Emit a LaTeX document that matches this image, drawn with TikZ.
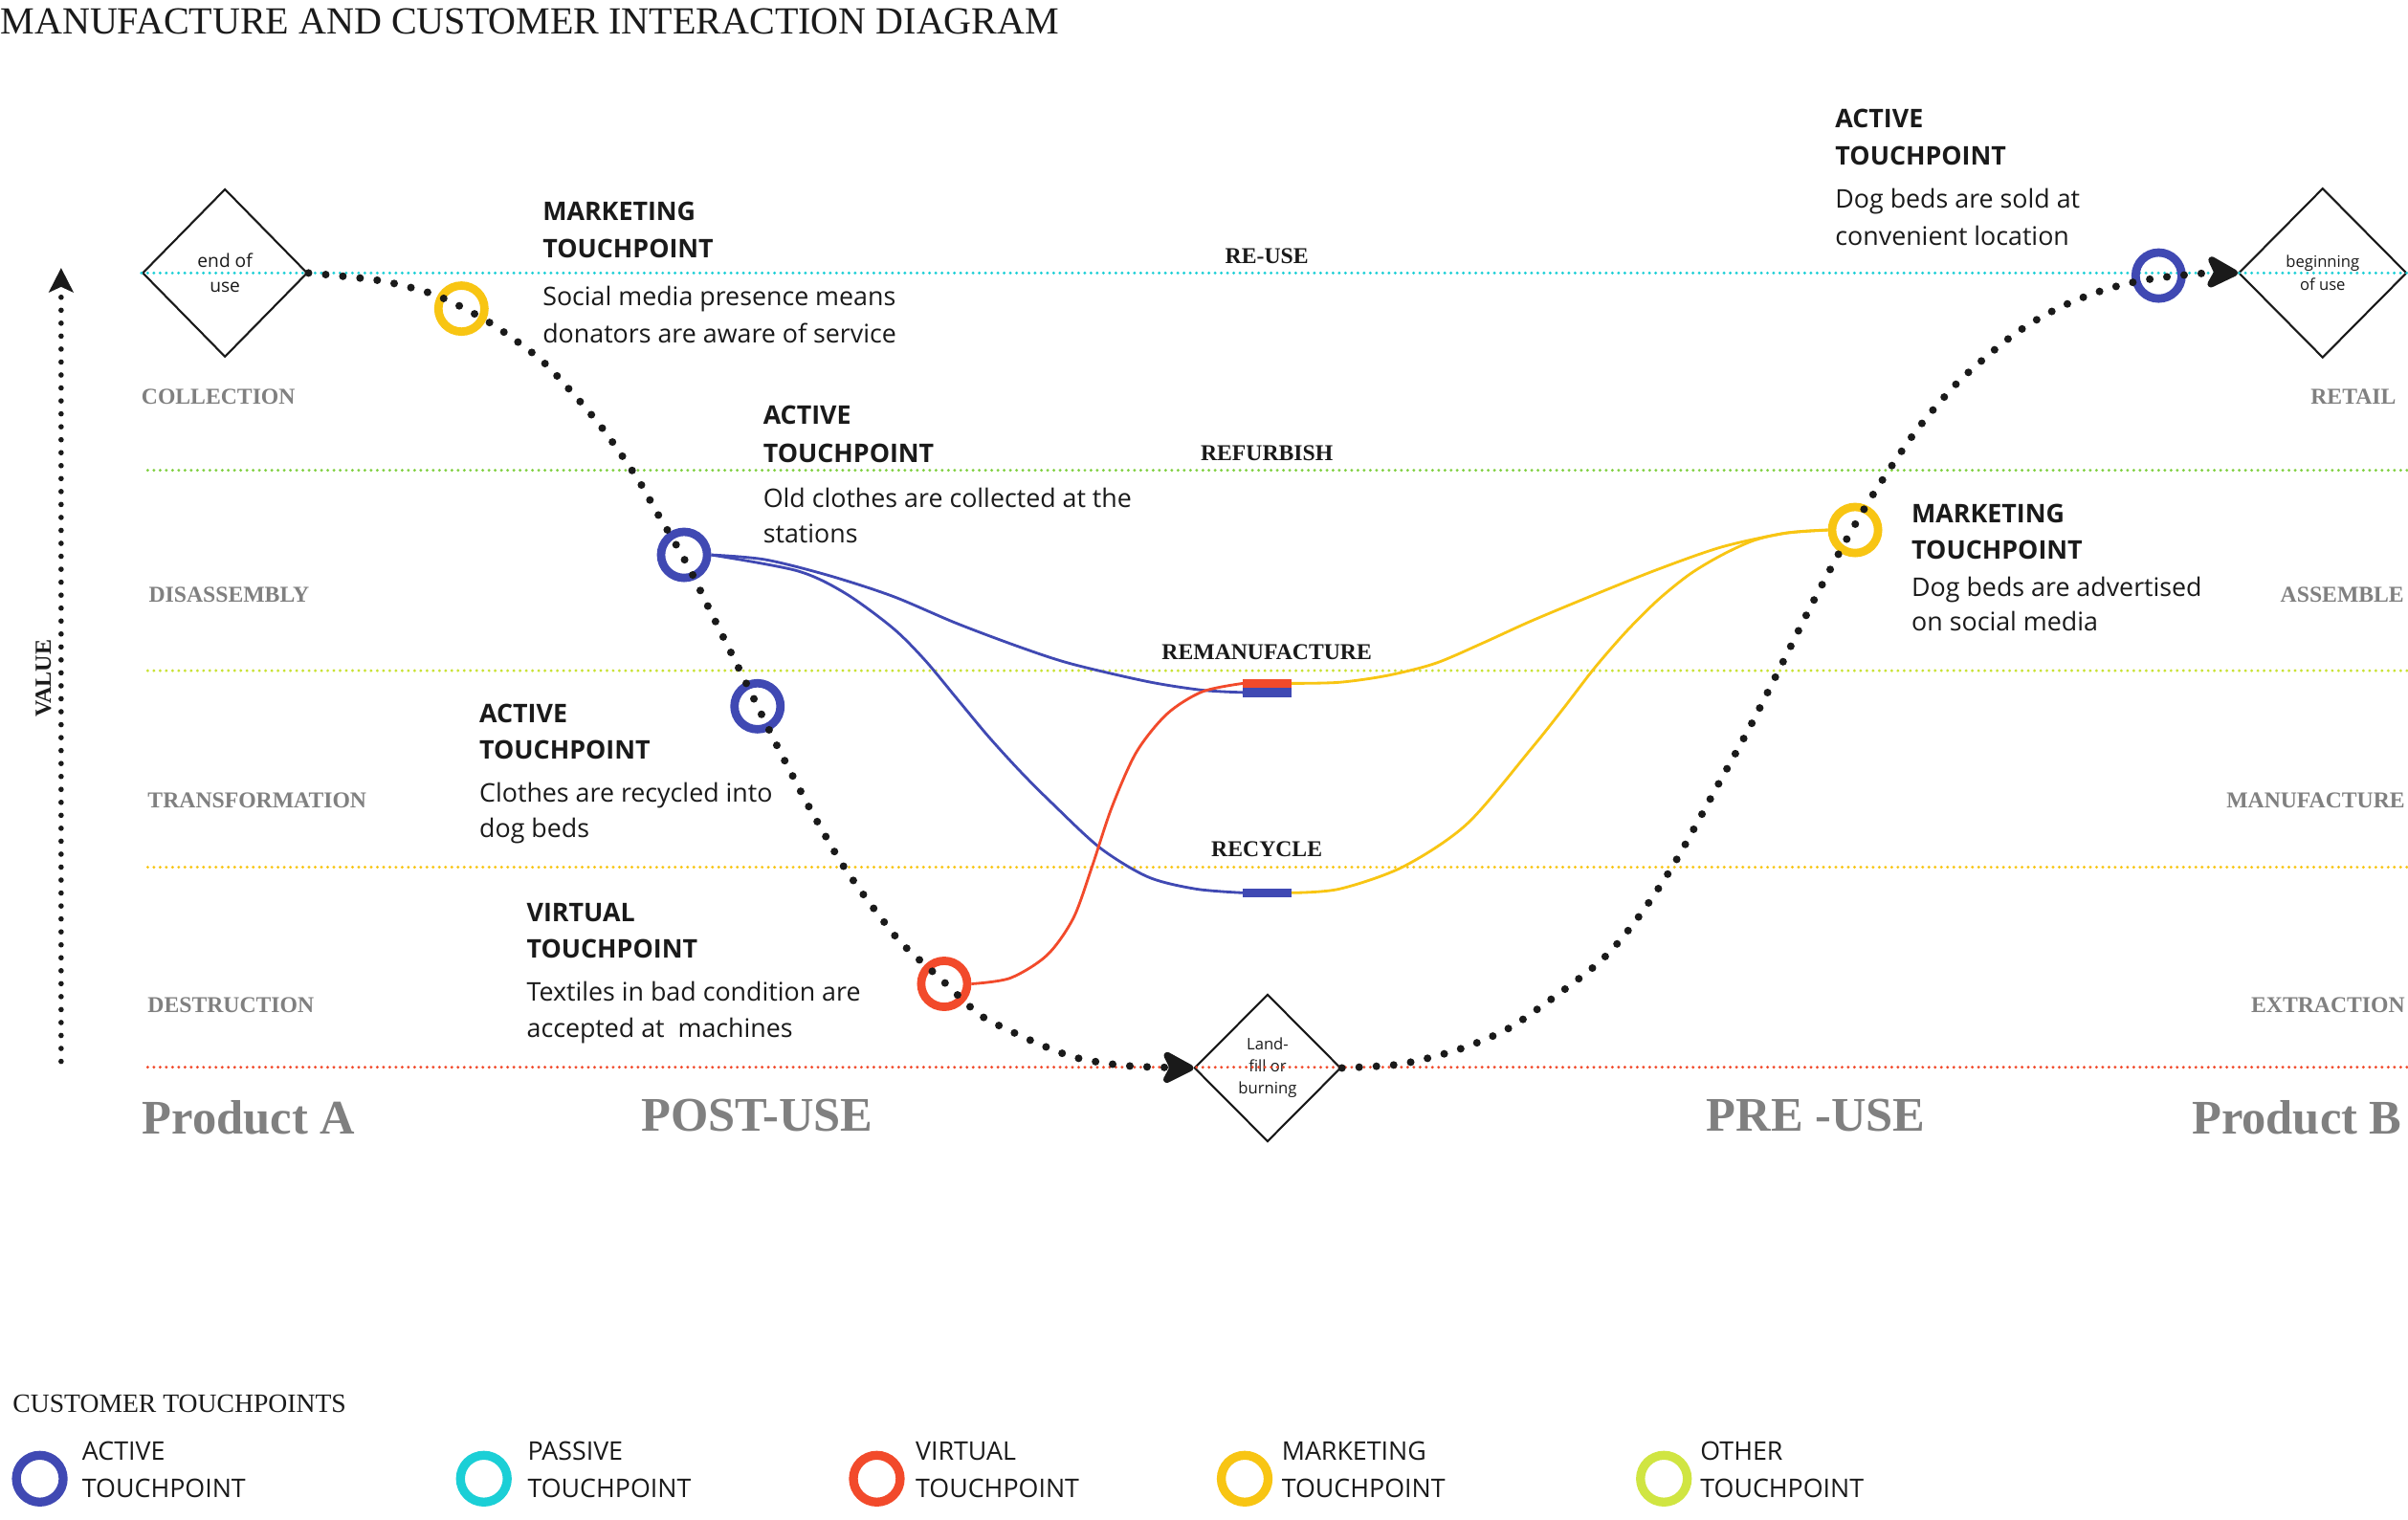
\documentclass[tikz,border=0pt]{standalone}
\usepackage{fontspec}
\setmainfont{Liberation Serif}
\newfontfamily\osans{Open Sans}
\usetikzlibrary{shapes.geometric,arrows.meta}
\definecolor{cActive}{HTML}{4049B3}
\definecolor{cPassive}{HTML}{1BCFD6}
\definecolor{cVirtual}{HTML}{F24A2B}
\definecolor{cMarket}{HTML}{F8C513}
\definecolor{cOther}{HTML}{D0E542}
\definecolor{cGreen}{HTML}{80D040}
\definecolor{cLime}{HTML}{C9E232}
\definecolor{cGray}{HTML}{808080}
\definecolor{cInk}{HTML}{1A1A1A}
\tikzset{
 guide/.style={line width=1.15pt, line cap=round, dash pattern=on 0pt off 2.3pt},
 bigdots/.style={line width=2.85pt, line cap=round, dash pattern=on 0pt off 6.4pt, draw=cInk},
 flow/.style={line width=1pt},
 tp/.style={circle, draw=#1, line width=3.1pt, minimum size=6mm, inner sep=0pt},
 lgc/.style={circle, draw=#1, line width=3.3pt, minimum size=6.1mm, inner sep=0pt},
 stage/.style={diamond, draw=cInk, line width=0.75pt, inner sep=0pt, align=center, text=cInk},
 barbox/.style={fill=#1, inner sep=0pt, outer sep=0pt, minimum width=6.32mm, minimum height=1.2mm},
 tphead/.style={font=\osans\bfseries\fontsize{9.5}{11}\selectfont, text=cInk, anchor=base west, inner sep=0pt},
 tpbody/.style={font=\osans\fontsize{9.5}{11}\selectfont, text=cInk, anchor=base west, inner sep=0pt},
 lvllabel/.style={font=\bfseries\fontsize{8.4}{10}\selectfont, text=cGray, inner sep=0pt},
 routelabel/.style={font=\bfseries\fontsize{8.4}{10}\selectfont, text=cInk, anchor=base, inner sep=0pt},
 phaselabel/.style={font=\bfseries\fontsize{17.9}{20}\selectfont, text=cGray, inner sep=0pt},
 bigtip/.style={-{Stealth[length=14pt,width=14.5pt,inset=3.6pt,round]}},
}
\begin{document}
\begin{tikzpicture}[x=0.2mm,y=-0.2mm]
\fill[white] (0,0) rectangle (1568.2,989.4);
\useasboundingbox (0,0) rectangle (1568.2,989.4);

% title
\node[anchor=base west, inner sep=0pt, font=\fontsize{14.2}{16}\selectfont, text=cInk] (title) at (0,22) {MANUFACTURE AND CUSTOMER INTERACTION DIAGRAM};

% stage diamonds
\node[stage, minimum width=21.5mm, minimum height=21.9mm, font=\osans\fontsize{6.8}{9.1}\selectfont] (eou) at (146.5,177.8) {end of\\use};
\node[stage, minimum width=21.9mm, minimum height=22.1mm, font=\osans\fontsize{5.9}{8.3}\selectfont] (bou) at (1512.6,177.8) {beginning\\of use};
\node[stage, minimum width=19.1mm, minimum height=19.2mm, font=\osans\fontsize{5.9}{8.2}\selectfont] (lf) at (825.5,695.6) {Land-\\fill or\\burning};

% guide lines
\draw[guide, draw=cPassive] (eou.west) -- (bou.east);
\draw[guide, draw=cGreen] (96.2,306.3) -- (1568,306.3);
\draw[guide, draw=cLime] (96.2,436.8) -- (1568,436.8);
\draw[guide, draw=cMarket] (96.2,564.8) -- (1568,564.8);
\draw[guide, draw=cVirtual] (96.2,695.1) -- (1568,695.1);

% route labels
\node[routelabel] (lreuse) at (825,171.5) {RE-USE};
\node[routelabel] (lrefurb) at (825,300) {REFURBISH};
\node[routelabel] (lreman) at (825,429.3) {REMANUFACTURE};
\node[routelabel] (lrecyc) at (825,558) {RECYCLE};

% level labels
\node[lvllabel, anchor=base west] (lcol) at (91.8,263.3) {COLLECTION};
\node[lvllabel, anchor=base west] (ldis) at (96.6,392.5) {DISASSEMBLY};
\node[lvllabel, anchor=base west] (ltra) at (95.9,526.1) {TRANSFORMATION};
\node[lvllabel, anchor=base west] (ldes) at (95.9,659.7) {DESTRUCTION};
\node[lvllabel, anchor=base east] (lret) at (1560.7,263.4) {RETAIL};
\node[lvllabel, anchor=base east] (lass) at (1565.9,392.5) {ASSEMBLE};
\node[lvllabel, anchor=base east] (lman) at (1566.5,526.1) {MANUFACTURE};
\node[lvllabel, anchor=base east] (lext) at (1566.5,659.7) {EXTRACTION};

% phase labels
\node[phaselabel, anchor=base west] (pa) at (92.4,738.3) {Product A};
\node[phaselabel, anchor=base west] (ppost) at (417.2,737) {POST-USE};
\node[phaselabel, anchor=base west] (ppre) at (1111,737) {PRE -USE};
\node[phaselabel, anchor=base east] (pb) at (1564.5,738.3) {Product B};

% value axis
\coordinate (axb) at (39.8,691.3);
\coordinate (axt) at (39.8,174.5);
\draw[line width=2pt, line cap=round, dash pattern=on 0pt off 4.8pt, draw=cInk, -{Stealth[length=9pt,width=9pt,inset=2pt]}] (axb) -- (axt);
\node[rotate=90, font=\bfseries\fontsize{8.5}{10}\selectfont, text=cInk, inner sep=0pt] (val) at (28.3,442) {VALUE};

% touchpoint circles
\node[tp=cMarket] (y1) at (300.5,201) {};
\node[tp=cActive] (b1) at (445.5,361.4) {};
\node[tp=cActive] (b2) at (493.3,460) {};
\node[tp=cVirtual] (r1) at (614.9,640.8) {};
\node[tp=cMarket] (y2) at (1208.1,345.2) {};
\node[tp=cActive] (b3) at (1405.8,179.5) {};

% bars
\node[barbox=cVirtual] (barR) at (825.3,445.1) {};
\node[barbox=cActive] (barB) at (825.3,451) {};
\node[barbox=cActive] (barC) at (825.3,581.5) {};

% flows
\draw[flow, draw=cActive] plot[smooth] coordinates {(b1.east) (498.4,364.5) (540,374.9) (581.5,388.4) (623,406) (664.6,421.6) (697.8,432.4) (747.7,444) (783,449.5) (barB.west)};
\draw[flow, draw=cActive] plot[smooth] coordinates {(b1.east) (519.2,371.8) (550.3,386.3) (581.5,409.1) (602.3,429.9) (623,454.8) (643.8,479.8) (664.6,502.6) (685.4,523.4) (716.5,552.3) (747.7,571.2) (778.8,579) (barC.west)};
\draw[flow, draw=cVirtual] plot[smooth] coordinates {(r1.east) (658,637) (682,622) (699,598) (711,565) (724,526) (740,490) (760,465) (783,450.5) (barR.west)};
\draw[flow, draw=cMarket] plot[smooth] coordinates {(barR.east) (872.3,444.4) (903.4,440) (934.6,432.1) (965.7,418.8) (996.9,404.6) (1038.4,387.3) (1080,370.7) (1121.5,356.2) (1163,347.2) (y2.west)};
\draw[flow, draw=cMarket] plot[smooth] coordinates {(barC.east) (872.3,579) (913.8,564.5) (955.3,536.7) (996.9,488) (1017.6,462.1) (1038.4,435.1) (1059.2,411.2) (1080,390.5) (1100.7,373.8) (1121.5,361.4) (1142.2,352) (1163,347.2) (y2.west)};

% main dotted paths
\draw[bigdots, bigtip] plot[smooth] coordinates {(eou.east) (246.9,182.7) (279.5,190.7) (299.5,199.4) (319,210.2) (338,223.3) (355.6,237.4) (377.5,261.2) (392.4,279.1) (405.3,297.1) (417.2,315) (428.2,334.5) (439.9,354.1) (450.3,372.8) (460.4,393.6) (470.4,413.7) (480.2,433.4) (490.1,453.4) (504.9,483.5) (515.1,503.2) (525.4,522.9) (536.4,542.4) (547.9,562) (560.3,579.9) (573.7,597.8) (587.6,614.8) (612,637) (637.3,660.4) (656.6,670.8) (676.5,679.9) (697.8,688.1) (718.7,692.3) (740,694.6) (lf.west)};
\draw[bigdots, bigtip] plot[smooth] coordinates {(lf.east) (908,693.6) (930,689.2) (951.2,683.1) (972,674.9) (991.7,664) (1040,628) (1065,600) (1090,563) (1119,510.9) (1139.8,473.1) (1160,433.4) (1179.9,393.6) (1201,354.1) (1217.6,325.6) (1236,297.4) (1249,279.1) (1263,262.2) (1278.2,245.9) (1303.7,223.9) (1321.5,211.2) (1341,200.4) (1361.8,191.7) (1383.2,185.2) (1405,181.1) (1437.4,177.8) (bou.west)};

% touchpoint texts
\node[tphead] (t1a) at (353.1,143.9) {MARKETING};
\node[tphead] (t1b) at (353.1,167.8) {TOUCHPOINT};
\node[tpbody] (t1c) at (353.1,199.0) {Social media presence means};
\node[tpbody] (t1d) at (353.1,223.3) {donators are aware of service};

\node[tphead] (t2a) at (496.7,276.5) {ACTIVE};
\node[tphead] (t2b) at (496.7,301.3) {TOUCHPOINT};
\node[tpbody] (t2c) at (496.7,330.6) {Old clothes are collected at the};
\node[tpbody] (t2d) at (496.7,353.4) {stations};

\node[tphead] (t3a) at (311.9,470.4) {ACTIVE};
\node[tphead] (t3b) at (311.9,494.2) {TOUCHPOINT};
\node[tpbody] (t3c) at (311.9,522.6) {Clothes are recycled into};
\node[tpbody] (t3d) at (311.9,545.7) {dog beds};

\node[tphead] (t4a) at (342.7,600.1) {VIRTUAL};
\node[tphead] (t4b) at (342.7,623.9) {TOUCHPOINT};
\node[tpbody] (t4c) at (342.7,652.2) {Textiles in bad condition are};
\node[tpbody] (t4d) at (342.7,675.7) {accepted at\ \ machines};

\node[tphead] (t5a) at (1194.9,83.1) {ACTIVE};
\node[tphead] (t5b) at (1194.9,107.6) {TOUCHPOINT};
\node[tpbody] (t5c) at (1194.9,135.6) {Dog beds are sold at};
\node[tpbody] (t5d) at (1194.9,159.5) {convenient location};

\node[tphead] (t6a) at (1244.6,340.4) {MARKETING};
\node[tphead] (t6b) at (1244.6,363.9) {TOUCHPOINT};
\node[tpbody] (t6c) at (1244.6,388.3) {Dog beds are advertised};
\node[tpbody] (t6d) at (1244.6,411.1) {on social media};

% legend
\node[anchor=base west, inner sep=0pt, font=\fontsize{9.8}{11}\selectfont, text=cInk] (lgt) at (8,919.6) {CUSTOMER TOUCHPOINTS};
\node[lgc=cActive] (lg1) at (25.9,963.1) {};
\node[lgc=cPassive] (lg2) at (315.1,963.1) {};
\node[lgc=cVirtual] (lg3) at (571,963.1) {};
\node[lgc=cMarket] (lg4) at (810.6,963.1) {};
\node[lgc=cOther] (lg5) at (1083.6,963.1) {};
\node[tpbody] (lg1a) at (53.2,951.2) {ACTIVE};
\node[tpbody] (lg1b) at (53.2,975.1) {TOUCHPOINT};
\node[tpbody] (lg2a) at (343.3,951.2) {PASSIVE};
\node[tpbody] (lg2b) at (343.3,975.1) {TOUCHPOINT};
\node[tpbody] (lg3a) at (596,951.2) {VIRTUAL};
\node[tpbody] (lg3b) at (596,975.1) {TOUCHPOINT};
\node[tpbody] (lg4a) at (834.4,951.2) {MARKETING};
\node[tpbody] (lg4b) at (834.4,975.1) {TOUCHPOINT};
\node[tpbody] (lg5a) at (1107,951.2) {OTHER};
\node[tpbody] (lg5b) at (1107,975.1) {TOUCHPOINT};
\end{tikzpicture}
\end{document}
